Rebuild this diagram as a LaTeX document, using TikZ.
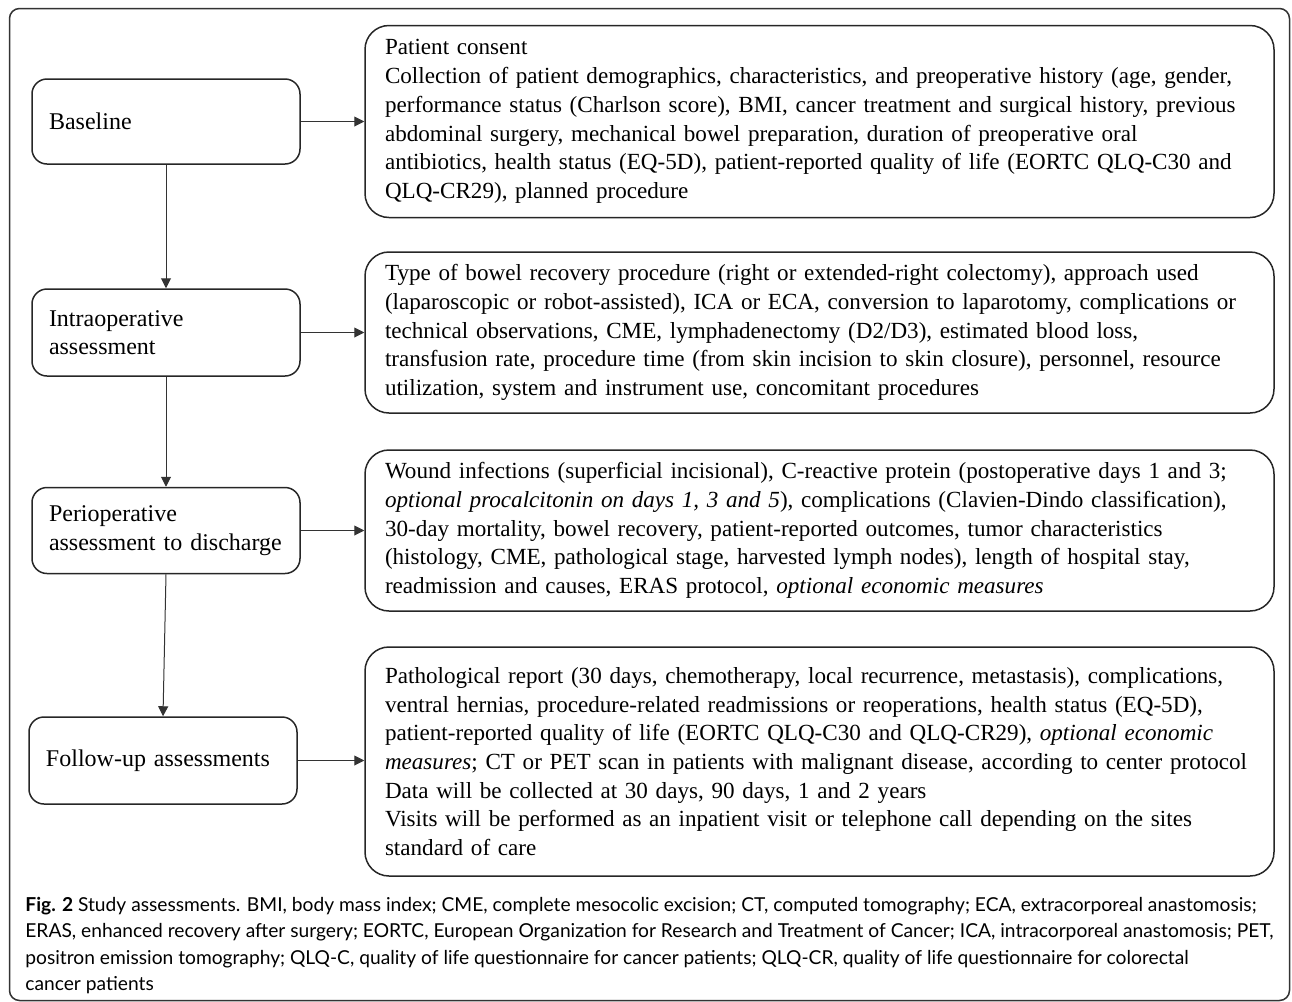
\documentclass[tikz,border=0pt]{standalone}
\usepackage{fontspec}
\setmainfont{Liberation Serif}
\newfontfamily\capfont{Lato}
\usetikzlibrary{arrows.meta}
\begin{document}
\begin{tikzpicture}[x=0.5pt,y=-0.5pt,
  leftbox/.style={draw=black!85, line width=0.75pt, rounded corners=7.5pt, text width=117pt, inner xsep=8.5pt, inner ysep=0pt, align=left, font=\fontsize{12}{14.3}\selectfont},
  rightbox/.style={draw=black!85, line width=0.75pt, rounded corners=12pt, text width=434.5pt, inner xsep=10pt, inner ysep=0pt, align=left, font=\fontsize{11.55}{14.35}\selectfont},
  conn/.style={draw=black!80, line width=0.5pt, -{Triangle[length=5pt,width=5pt]}},
  capline/.style={anchor=base west, inner sep=0pt, font=\capfont\fontsize{9.6}{13.3}\selectfont}]
\useasboundingbox (0,0) rectangle (1292,1002);
\draw[draw=black!80, line width=0.75pt, rounded corners=5pt] (9.5,8.5) rectangle (1289.5,1000.5);

% left column
\node[leftbox, minimum height=42.5pt] (L1) at (166,121.5) {Baseline};
\node[leftbox, minimum height=43.5pt] (L2) at (166,332.5) {Intraoperative\\assessment};
\node[leftbox, minimum height=43pt] (L3) at (166,530.5) {Perioperative\\assessment to discharge};
\node[leftbox, minimum height=43.5pt] (L4) at (163,760.5) {Follow-up assessments};

% right column
\node[rightbox, minimum height=96pt] (R1) at (819.5,121.5) {Patient consent\\
Collection of patient demographics, characteristics, and preoperative history (age, gender,\\
performance status (Charlson score), BMI, cancer treatment and surgical history, previous\\
abdominal surgery, mechanical bowel preparation, duration of preoperative oral\\
antibiotics, health status (EQ-5D), patient-reported quality of life (EORTC QLQ-C30 and\\
QLQ-CR29), planned procedure};

\node[rightbox, minimum height=80.5pt] (R2) at (819.5,332.5) {Type of bowel recovery procedure (right or extended-right colectomy), approach used\\
(laparoscopic or robot-assisted), ICA or ECA, conversion to laparotomy, complications or\\
technical observations, CME, lymphadenectomy (D2/D3), estimated blood loss,\\
transfusion rate, procedure time (from skin incision to skin closure), personnel, resource\\
utilization, system and instrument use, concomitant procedures};

\node[rightbox, minimum height=80.5pt] (R3) at (819.5,530.5) {Wound infections (superficial incisional), C-reactive protein (postoperative days 1 and 3;\\
\textit{optional procalcitonin on days 1, 3 and 5}), complications (Clavien-Dindo classification),\\
30-day mortality, bowel recovery, patient-reported outcomes, tumor characteristics\\
(histology, CME, pathological stage, harvested lymph nodes), length of hospital stay,\\
readmission and causes, ERAS protocol, \textit{optional economic measures}};

\node[rightbox, minimum height=114.5pt] (R4) at (819.5,761.5) {Pathological report (30 days, chemotherapy, local recurrence, metastasis), complications,\\
ventral hernias, procedure-related readmissions or reoperations, health status (EQ-5D),\\
patient-reported quality of life (EORTC QLQ-C30 and QLQ-CR29), \textit{optional economic}\\
\textit{measures}; CT or PET scan in patients with malignant disease, according to center protocol\\
Data will be collected at 30 days, 90 days, 1 and 2 years\\
Visits will be performed as an inpatient visit or telephone call depending on the sites\\
standard of care};

% connectors
\draw[conn] (L1.south) -- (L2.north);
\draw[conn] (L2.south) -- (L3.north);
\draw[conn] (L3.south) -- (L4.north);
\draw[conn] (L1.east) -- (R1.west);
\draw[conn] (L2.east) -- (R2.west);
\draw[conn] (L3.east) -- (R3.west);
\draw[conn] (L4.east) -- (L4.east -| R4.west);

% caption
\node[capline] (C1) at (25,911) {\textbf{Fig. 2} Study assessments. BMI, body mass index; CME, complete mesocolic excision; CT, computed tomography; ECA, extracorporeal anastomosis;};
\node[capline] (C2) at (25,937.5) {ERAS, enhanced recovery after surgery; EORTC, European Organization for Research and Treatment of Cancer; ICA, intracorporeal anastomosis; PET,};
\node[capline] (C3) at (25,964) {positron emission tomography; QLQ-C, quality of life questionnaire for cancer patients; QLQ-CR, quality of life questionnaire for colorectal};
\node[capline] (C4) at (25,990.5) {cancer patients};
\end{tikzpicture}
\end{document}
